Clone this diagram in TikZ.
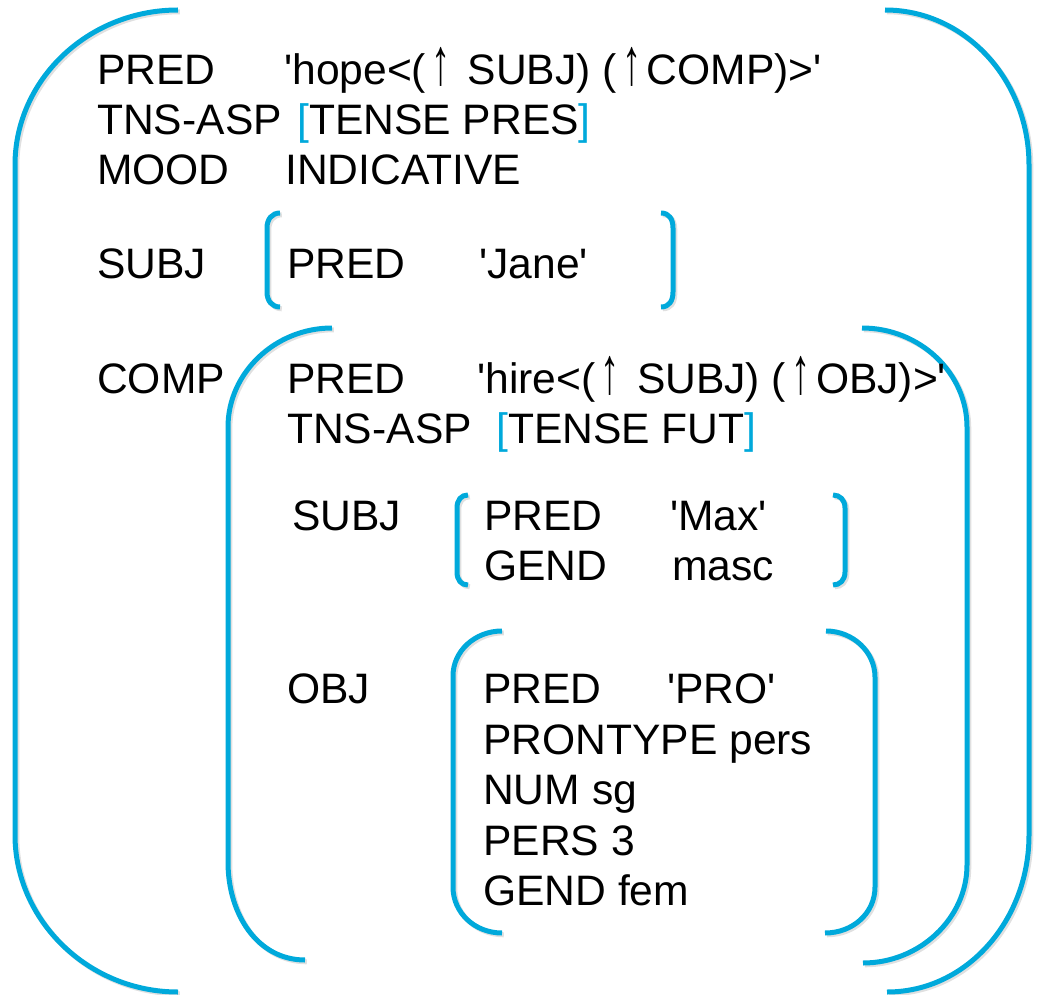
\documentclass[tikz,border=0pt]{standalone}
\usepackage{fontspec}
\usepackage{graphicx}
\setmainfont{Liberation Sans}
\definecolor{brc}{RGB}{0,169,219}
\newcommand\sq{\textquotesingle}
\newcommand\lb{\textcolor{brc}{[}}
\newcommand\rb{\textcolor{brc}{]}}
\newcommand\uparr{\makebox[0.7em]{\scalebox{0.9}[1.55]{↑}}}
\begin{document}
\begin{tikzpicture}[x=1pt,y=-1pt,
  t/.style={anchor=base west, inner sep=0pt, font=\fontsize{42.6}{50}\selectfont},
  br/.style={draw=brc, line width=5pt, line cap=butt,
    preaction={draw=black!35, opacity=0.35, line width=5pt,
      transform canvas={shift={(1.8pt,-1.8pt)}}}}]
\useasboundingbox (0,0) rectangle (1039,995);
% outer brackets
\path[br] (178,10) .. controls (88,10) and (15,80) .. (15,165) -- (15,835)
  .. controls (15,920) and (88,992) .. (178,992);
\path[br] (885,10) .. controls (965,10) and (1029,80) .. (1029,165) -- (1029,835)
  .. controls (1029,920) and (967,992) .. (887,992);
% SUBJ Jane brackets
\path[br] (280,213) .. controls (272,213) and (267,219) .. (267,228) -- (267,292)
  .. controls (267,301) and (272,307) .. (280,307);
\path[br] (661,213) .. controls (669,213) and (673,219) .. (673,228) -- (673,292)
  .. controls (673,301) and (669,307) .. (661,307);
% COMP brackets
\path[br] (332,328) .. controls (275,328) and (228,373) .. (228,427) -- (228,862)
  .. controls (228,915) and (258,960) .. (305,960);
\path[br] (862,328) .. controls (920,328) and (967,373) .. (967,427) -- (967,865)
  .. controls (967,918) and (920,963) .. (863,963);
% Max brackets
\path[br] (468,495) .. controls (461,495) and (457,500) .. (457,508) -- (457,572)
  .. controls (457,580) and (461,585) .. (468,585);
\path[br] (833,495) .. controls (840,495) and (845,500) .. (845,508) -- (845,572)
  .. controls (845,580) and (840,585) .. (833,585);
% OBJ brackets
\path[br] (502,631) .. controls (475,631) and (453,651) .. (453,676) -- (453,887)
  .. controls (453,913) and (475,933) .. (502,933);
\path[br] (826,631) .. controls (853,631) and (875,652) .. (875,677) -- (875,887)
  .. controls (875,913) and (853,933) .. (825,933);
% top level
\node[t] (pred1) at (97,85) {PRED};
\node[t] (hope) at (284,85) {\sq hope<(\uparr{} SUBJ) (\uparr COMP)>\sq};
\node[t] (tns1) at (97,135) {TNS-ASP};
\node[t] (tnsv1) at (297,135) {\lb TENSE PRES\rb};
\node[t] (mood) at (97,185) {MOOD};
\node[t] (ind) at (285,185) {INDICATIVE};
\node[t] (subj1) at (97,278) {SUBJ};
\node[t] (pred2) at (287,278) {PRED};
\node[t] (jane) at (479,278) {\sq Jane\sq};
\node[t] (comp) at (97,393) {COMP};
% COMP f-structure
\node[t] (pred3) at (287,393) {PRED};
\node[t] (hire) at (477,393) {\sq hire<(\uparr{} SUBJ) (\uparr OBJ)>\sq};
\node[t] (tns2) at (287,443) {TNS-ASP};
\node[t] (tnsv2) at (496,443) {\lb TENSE FUT\rb};
\node[t] (subj2) at (292,530) {SUBJ};
\node[t] (pred4) at (484,530) {PRED};
\node[t] (max) at (670,530) {\sq Max\sq};
\node[t] (gend1) at (484,580) {GEND};
\node[t] (masc) at (672,580) {masc};
\node[t] (obj) at (287,703) {OBJ};
\node[t] (pred5) at (483,703) {PRED};
\node[t] (pro) at (667,703) {\sq PRO\sq};
\node[t] (pron) at (483,754) {PRONTYPE pers};
\node[t] (num) at (483,804) {NUM sg};
\node[t] (pers) at (483,855) {PERS 3};
\node[t] (gend2) at (483,905) {GEND fem};
\end{tikzpicture}
\end{document}
